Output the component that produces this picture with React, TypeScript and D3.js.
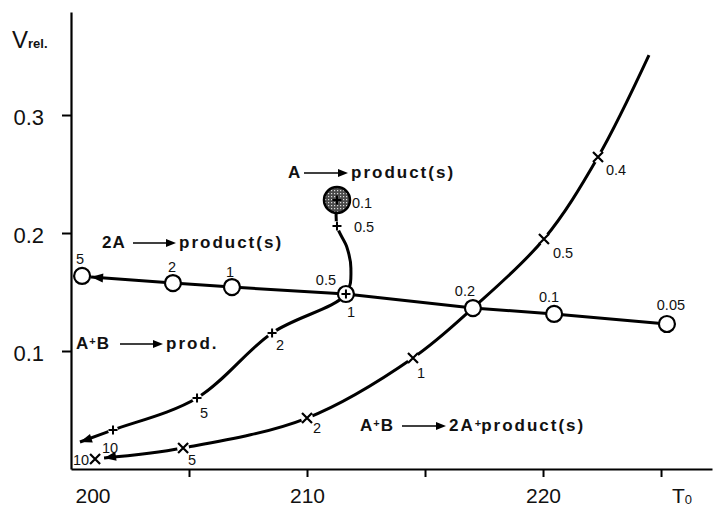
import React, { useEffect, useRef } from 'react';
import * as d3 from 'd3';

// 2A -> product(s): open circles, labels are the amounts
const circleLabels = ['5', '2', '1', '0.5', '0.2', '0.1', '0.05'];
const circleT = [200.47, 204.32, 206.82, 211.65, 217.03, 220.47, 225.25];
const circleV = [0.1636, 0.1576, 0.1542, 0.1483, 0.1364, 0.1314, 0.1229];

// A -> product(s) / A+B -> prod.: plus markers
const plusLabels = ['0.1', '0.5', '1', '2', '5', '10'];
const plusT = [211.27, 211.27, 211.65, 208.52, 205.34, 201.78];
const plusV = [0.228, 0.206, 0.1483, 0.1153, 0.0602, 0.0331];

// A+B -> 2A+product(s): crosses
const crossLabels = ['10', '5', '2', '1', '0.5', '0.4'];
const crossT = [201.02, 204.75, 210.0, 214.49, 220.04, 222.33];
const crossV = [0.0085, 0.0178, 0.0432, 0.0941, 0.1949, 0.2644];

// traced curves (including arrow tips and curve ends)
const circlePathT = [200.85, 204.32, 206.82, 211.65, 217.03, 220.47, 225.25];
const circlePathV = [0.1627, 0.1576, 0.1542, 0.1483, 0.1364, 0.1314, 0.1229];
const plusPathT = [211.27, 211.27, 211.69, 211.86, 211.65, 208.52, 205.34, 201.78, 200.38];
const plusPathV = [0.228, 0.206, 0.188, 0.17, 0.1483, 0.1153, 0.0602, 0.0331, 0.0229];
const crossPathT = [201.4, 204.75, 210.0, 214.49, 217.03, 220.04, 222.33, 224.49];
const crossPathV = [0.0093, 0.0178, 0.0432, 0.0941, 0.1364, 0.1949, 0.2644, 0.3508];

const xTicks = [205, 210, 215, 220, 225];
const yTicks = [0.1, 0.2, 0.3];

// label offsets (px) from marker centre
const circleOff = [[-2, -17], [-1, -16], [-2, -15], [-20, -14], [-8, -17], [-5, -17], [4, -19]];
const plusOff = [[25, 3], [27, 1], [5, 18], [8, 12], [7, 15], [-3, 18]];
const crossOff = [[-14, 1], [9, 12], [10, 10], [8, 15], [19, 14], [18, 13]];

const FONT = "'Liberation Sans', Arial, sans-serif";

const App: React.FC = () => {
  const svgRef = useRef<SVGSVGElement>(null);

  useEffect(() => {
    if (!svgRef.current) return;
    const svg = d3.select(svgRef.current);
    svg.selectAll('*').remove();

    const x = d3.scaleLinear().domain([200, 227.16]).range([71, 712]);
    const y = d3.scaleLinear().domain([0, 0.3873]).range([469, 12]);

    const defs = svg.append('defs');
    const pat = defs.append('pattern').attr('id', 'stip').attr('width', 3).attr('height', 3)
      .attr('patternUnits', 'userSpaceOnUse');
    pat.append('rect').attr('width', 3).attr('height', 3).attr('fill', '#4a4a4a');
    pat.append('rect').attr('x', 1).attr('y', 1).attr('width', 1.2).attr('height', 1.2).attr('fill', '#ddd');

    // axes
    const gx = svg.append('g').attr('transform', `translate(0,${y(0)})`)
      .call(d3.axisBottom(x).tickValues(xTicks).tickSize(8).tickSizeOuter(0).tickPadding(11)
        .tickFormat(d => (+d % 10 === 0 ? String(d) : '')));
    const gy = svg.append('g').attr('transform', `translate(${x(200)},0)`)
      .call(d3.axisLeft(y).tickValues(yTicks).tickSize(9).tickSizeOuter(0).tickPadding(18)
        .tickFormat(d3.format('.1f')));
    [gx, gy].forEach(g => {
      g.select('.domain').attr('stroke-width', 2.2);
      g.selectAll('.tick line').attr('stroke-width', 2);
      g.selectAll('.tick text').attr('font-family', FONT).attr('font-size', 22).attr('fill', '#111');
    });
    gx.selectAll('.tick text').attr('font-size', 21);
    gy.selectAll('.tick text').attr('dy', '0.45em');

    svg.append('text').attr('x', x(200) + 22).attr('y', 503).attr('text-anchor', 'middle')
      .attr('font-family', FONT).attr('font-size', 21).attr('fill', '#111').text('200');
    const t0 = svg.append('text').attr('x', 672).attr('y', 503).attr('font-family', FONT).attr('fill', '#111');
    t0.append('tspan').attr('font-size', 21).text('T');
    t0.append('tspan').attr('font-size', 13).attr('dy', 1).text('0');
    const vr = svg.append('text').attr('x', 12).attr('y', 48).attr('font-family', FONT).attr('fill', '#111');
    vr.append('tspan').attr('font-size', 24).text('V');
    vr.append('tspan').attr('font-size', 13).attr('font-weight', 'bold').text('rel.');

    const zip = (a: number[], b: number[]) => a.map((t, i) => [t, b[i]] as [number, number]);
    const curve = d3.line<[number, number]>().x(d => x(d[0])).y(d => y(d[1]))
      .curve(d3.curveCatmullRom.alpha(0.5));
    const straight = d3.line<[number, number]>().x(d => x(d[0])).y(d => y(d[1]));

    const lines = svg.append('g').attr('fill', 'none').attr('stroke', '#000').attr('stroke-width', 3);
    lines.append('path').attr('d', straight(zip(circlePathT, circlePathV)));
    lines.append('path').attr('d', curve(zip(plusPathT, plusPathV)));
    lines.append('path').attr('d', curve(zip(crossPathT, crossPathV)));

    const arrowHead = (g: any, tx: number, ty: number, fx: number, fy: number, L = 12, W = 4.5) => {
      const a = Math.atan2(ty - fy, tx - fx);
      const bx = tx - L * Math.cos(a), by = ty - L * Math.sin(a);
      const nx = -Math.sin(a) * W, ny = Math.cos(a) * W;
      g.append('path').attr('d', `M${tx},${ty}L${bx + nx},${by + ny}L${bx - nx},${by - ny}Z`).attr('fill', '#000');
    };
    arrowHead(svg, x(circlePathT[0]), y(circlePathV[0]), x(circlePathT[1]), y(circlePathV[1]));
    const pn = plusPathT.length - 1;
    arrowHead(svg, x(plusPathT[pn]), y(plusPathV[pn]), x(plusPathT[pn - 1]) - 8, y(plusPathV[pn - 1]) + 4);
    arrowHead(svg, x(crossPathT[0]), y(crossPathV[0]), x(crossPathT[1]), y(crossPathV[1]) - 2);

    // halos to break lines around + and x
    const halo = svg.append('g').attr('stroke', '#fff').attr('fill', '#fff');
    plusT.forEach((t, i) => {
      if (i === 0 || i === 2) return;
      halo.append('circle').attr('cx', x(t)).attr('cy', y(plusV[i])).attr('r', 3).attr('stroke-width', 4);
    });
    crossT.forEach((t, i) => {
      halo.append('circle').attr('cx', x(t)).attr('cy', y(crossV[i])).attr('r', 4).attr('stroke-width', 4);
    });

    // open circles
    svg.append('g').selectAll('circle').data(circleT).join('circle')
      .attr('cx', d => x(d)).attr('cy', (d, i) => y(circleV[i])).attr('r', 8)
      .attr('fill', '#fff').attr('stroke', '#000').attr('stroke-width', 2.2);
    // shaded circle around first plus point
    svg.append('circle').attr('cx', x(plusT[0])).attr('cy', y(plusV[0])).attr('r', 13)
      .attr('fill', 'url(#stip)').attr('stroke', '#000').attr('stroke-width', 2.5);

    // plus marks
    const pm = svg.append('g').attr('stroke', '#000').attr('stroke-width', 2);
    plusT.forEach((t, i) => {
      const cx = x(t), cy = y(plusV[i]);
      pm.append('path').attr('d', `M${cx - 4.5},${cy}H${cx + 4.5}M${cx},${cy - 4.5}V${cy + 4.5}`);
    });
    // cross marks
    const cm = svg.append('g').attr('stroke', '#000').attr('stroke-width', 2.2);
    crossT.forEach((t, i) => {
      const cx = x(t), cy = y(crossV[i]);
      cm.append('path').attr('d', `M${cx - 5},${cy - 5}L${cx + 5},${cy + 5}M${cx + 5},${cy - 5}L${cx - 5},${cy + 5}`);
    });

    // point labels
    const lab = svg.append('g').attr('font-family', FONT).attr('font-size', 14.5).attr('fill', '#111')
      .attr('text-anchor', 'middle').attr('dominant-baseline', 'central');
    const addLabels = (ts: number[], vs: number[], labels: string[], off: number[][]) => {
      ts.forEach((t, i) => {
        lab.append('text').attr('x', x(t) + off[i][0]).attr('y', y(vs[i]) + off[i][1]).text(labels[i]);
      });
    };
    addLabels(circleT, circleV, circleLabels, circleOff);
    addLabels(plusT, plusV, plusLabels, plusOff);
    addLabels(crossT, crossV, crossLabels, crossOff);

    // reaction annotations
    const reaction = (x0: number, base: number, left: string, a0: number, a1: number, right: string) => {
      const g = svg.append('g');
      const lt = g.append('text').attr('x', x0).attr('y', base).attr('font-family', FONT)
        .attr('font-size', 17).attr('font-weight', 'bold').attr('letter-spacing', 1).attr('fill', '#111');
      left.split(/(\+)/).forEach((part, k) => {
        if (part === '+') lt.append('tspan').attr('font-size', 11).attr('dy', -4).text('+');
        else if (part) lt.append('tspan').attr('dy', k === 0 ? 0 : 4).text(part);
      });
      const ay = base - 5;
      g.append('line').attr('x1', a0).attr('x2', a1 - 8).attr('y1', ay).attr('y2', ay)
        .attr('stroke', '#000').attr('stroke-width', 1.6);
      arrowHead(g, a1, ay, a0, ay, 10, 4);
      const rt = g.append('text').attr('x', a1 + 3).attr('y', base).attr('font-family', FONT)
        .attr('font-size', 17).attr('font-weight', 'bold').attr('letter-spacing', 2).attr('fill', '#111');
      right.split(/(\+)/).forEach((part, k) => {
        if (part === '+') rt.append('tspan').attr('font-size', 11).attr('dy', -4).attr('letter-spacing', 0).text('+');
        else if (part) rt.append('tspan').attr('dy', k === 0 ? 0 : 4).text(part);
      });
    };
    reaction(288, 178, 'A', 304, 348, 'product(s)');
    reaction(102, 248, '2A', 133, 176, 'product(s)');
    reaction(76, 349, 'A+B', 120, 163, 'prod.');
    reaction(360, 431, 'A+B', 402, 446, '2A+product(s)');
  }, []);

  return (
    <svg ref={svgRef} width={716} height={508}
      style={{ position: 'absolute', left: 0, top: 0, background: '#fff' }} />
  );
};

export default App;
